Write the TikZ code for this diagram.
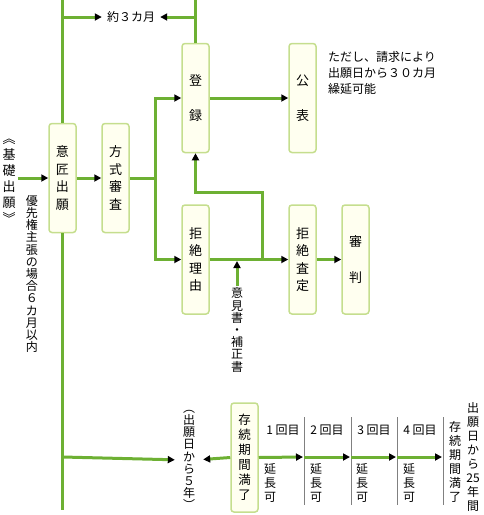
\documentclass[tikz,border=0pt]{standalone}
\usepackage{fontspec}
\setmainfont{Noto Sans CJK JP}
\usetikzlibrary{arrows.meta}
\definecolor{lineGreen}{RGB}{109,176,51}
\definecolor{boxBorder}{RGB}{197,222,142}
\definecolor{boxFill}{RGB}{255,255,240}

\begin{document}
\begin{tikzpicture}[x = 1pt, y = -1pt]
	\tikzstyle{boxStyle}=[shape = rectangle, rounded corners = 3pt, draw = boxBorder, fill = boxFill, line width = 1.5pt, minimum width = 27pt, minimum height = 109pt, inner sep = 0pt, align = center, font = \fontsize{13}{17.5}\selectfont]
	\tikzstyle{textStyle}=[inner sep = 0pt, align = center, font = \fontsize{12}{12.2}\selectfont]
	\tikzstyle{lineStyle}=[draw = lineGreen, line width = 3pt]
	\tikzstyle{arrowStyle}=[lineStyle, -{Triangle[length = 7pt, width = 7pt, color = black]}]
	\tikzstyle{markStyle}=[draw = gray, line width = 1pt]
	\useasboundingbox (0,0) rectangle (483,515);
	% boxes
	\node[boxStyle] (b0) at (62.5,178) {意\\匠\\出\\願};
	\node[boxStyle] (b1) at (115.5,178) {方\\式\\審\\査};
	\node[boxStyle] (b2) at (195.5,98) {登\\[17.5pt]録};
	\node[boxStyle] (b3) at (302.5,98) {公\\[17.5pt]表};
	\node[boxStyle] (b4) at (195.5,259.5) {拒\\絶\\理\\由};
	\node[boxStyle] (b5) at (302.5,259.5) {拒\\絶\\査\\定};
	\node[boxStyle] (b6) at (355.5,259.5) {審\\[18pt]判};
	\node[boxStyle, font = \fontsize{12.5}{15}\selectfont] (b7) at (244.5,457.5) {存\\続\\期\\間\\満\\了};
	% texts
	\node[textStyle] (t0) at (131,17) {約３カ月};
	\node[textStyle, anchor = north west, align = left, font = \fontsize{12}{16}\selectfont] (t1) at (328,51) {ただし、請求により\\出願日から３０カ月\\繰延可能};
	\node[textStyle, font = \fontsize{13}{16}\selectfont] (t2) at (9,181) {︽\\基\\礎\\出\\願\\︾};
	\node[textStyle] (t3) at (32,274) {優\\先\\権\\主\\張\\の\\場\\合\\６\\カ\\月\\以\\内};
	\node[textStyle] (t4) at (237,330) {意\\見\\書\\・\\補\\正\\書};
	\node[textStyle] (t5) at (189,460) {︵\\出\\願\\日\\か\\ら\\５\\年\\︶};
	\node[textStyle, font = \fontsize{12}{14}\selectfont] (t6) at (455,462) {存\\続\\期\\間\\満\\了};
	\node[textStyle, font = \fontsize{12}{14}\selectfont] (t7) at (473,457) {出\\願\\日\\か\\ら\\25\\年\\間};
	\foreach \l/\x in {1/283, 2/327, 3/374, 4/420}
		\node[textStyle] (n\l) at (\x,430) {\l\ 回目};
	\foreach \x [count = \i] in {270,316,362,409}
		\node[textStyle, font = \fontsize{12}{14}\selectfont] (e\i) at (\x,483) {延\\長\\可};
	% main line
	\coordinate (c0) at (62.5,0);
	\coordinate (c1) at (62.5,510);
	\draw[lineStyle] (c0) -- (b0.north);
	\draw[lineStyle] (b0.south) -- (c1);
	% about 3 months
	\coordinate (c2) at (62.5,17);
	\coordinate (c3) at (195.5,0);
	\draw[arrowStyle, shorten >= 5pt] (c2) -- (t0.west);
	\draw[lineStyle] (c3) -- (b2.north);
	\draw[arrowStyle, shorten >= 5pt] (c3 |- t0) -- (t0.east);
	% examination
	\coordinate (c4) at (18,178);
	\coordinate (c5) at (155,178);
	\draw[arrowStyle] (c4) -- (b0.west);
	\draw[arrowStyle] (b0.east) -- (b1.west);
	\draw[lineStyle] (b1.east) -- (c5);
	\draw[arrowStyle] (c5) |- (b2.west);
	\draw[arrowStyle] (c5) |- (b4.west);
	\draw[arrowStyle] (b2.east) -- (b3.west);
	\draw[arrowStyle] (b4.east) -- (b5.west);
	\draw[arrowStyle] (b5.east) -- (b6.west);
	\coordinate (c6) at (262,259.5);
	\coordinate (c7) at (262,192);
	\draw[arrowStyle] (c6) -- (c7) -| (b2.south);
	\draw[arrowStyle, shorten <= 2pt, shorten >= 1.5pt] (t4.north) -- (t4.north |- b4.east);
	% term
	\foreach \x [count = \i] in {304,351,397,443} {
		\coordinate (m\i) at (\x,457);
		\draw[markStyle] (\x,417) -- (\x,505);
	}
	\coordinate (c8) at (62.5,457);
	\draw[arrowStyle, shorten >= 8pt] (c8) -- (t5.west);
	\draw[arrowStyle, shorten >= 8pt] (b7.west) -- (t5.east);
	\draw[arrowStyle, shorten >= 1pt] (b7.east) -- (m1);
	\foreach \a/\b in {m1/m2, m2/m3, m3/m4}
		\draw[arrowStyle, shorten >= 1pt] (\a) -- (\b);
\end{tikzpicture}
\end{document}
